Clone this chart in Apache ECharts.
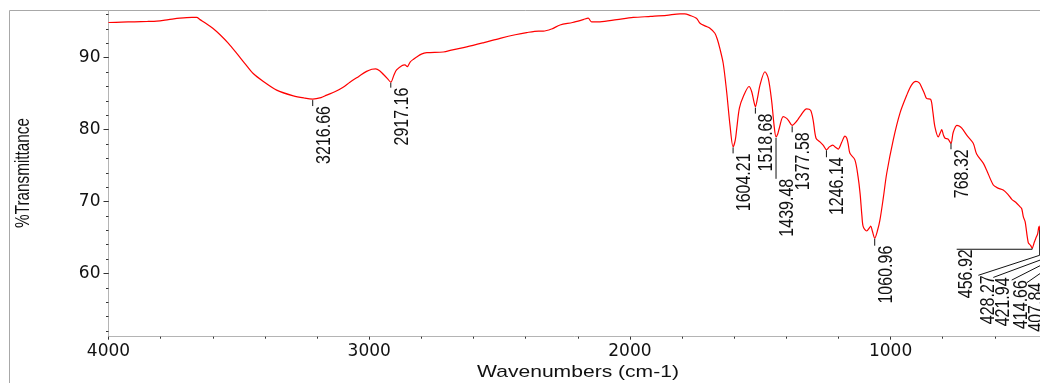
<!DOCTYPE html>
<html><head><meta charset="utf-8">
<script src="https://cdn.jsdelivr.net/npm/echarts@6/dist/echarts.min.js"></script>
<style>html,body{margin:0;padding:0;background:#fff}#c{width:1040px;height:383px}</style>
</head><body><div id="c"></div>
<script>
// ---- data ----
const wavenumbers = [
4000,3950,3900,3850,3815,3770,3726,3680,3662,3649,3623,3600,3572,3540,3508,3475,3445,3406,3355,3291,3250,3216.66,3185,3163,3130,3100,3074,3040,3010,2990,2975,2960,2946,2930,2917.16,2905,2895,2875,2863,2854,2843,2830,2818,2800,2779,2716,2680,2626,2560,2498,2440,2396,2350,2332,2300,2268,2220,2179,2160,2147,2115,2050,1987,1920,1859,1808,1790,1770,1745,1731,1710,1693,1674,1665,1655,1642,1629,1616,1604.21,1596,1590,1580,1565,1543,1533,1525,1518.68,1510,1501,1482,1469,1456,1447,1439.48,1433,1427,1412,1400,1392,1377.58,1360,1348,1322,1307,1297,1286,1271,1258,1246.14,1235,1222,1210,1201,1188,1175,1168,1162,1156,1137,1125,1117,1110,1105,1092,1080,1076,1070,1060.96,1050,1041,1028,1015,990,964,938,920,903,890,881,870,862,846,838,830,817,809,804,797,791,780,768.32,760,746,737,727,705,683,670,644,632,606,590,568,550,535,520,504,497,491,484,472,463,456.92,450,443,436,431,428.27,425,421.94,418,414.66,411,407.84,404,400];
const transmittance = [
94.9,94.95,95.0,95.05,95.1,95.3,95.5,95.6,95.6,95.3,94.7,94.1,93.2,92.0,90.6,89.1,87.8,86.7,85.5,84.7,84.4,84.25,84.45,84.8,85.3,85.9,86.6,87.4,88.1,88.4,88.45,88.2,87.7,87.1,86.6,87.6,88.3,88.9,89.0,88.75,89.4,89.8,90.1,90.5,90.7,90.8,91.1,91.5,92.1,92.7,93.2,93.5,93.7,93.7,94.0,94.55,94.9,95.3,95.5,95.0,95.0,95.3,95.6,95.75,95.9,96.1,96.1,95.9,95.5,94.8,94.4,94.1,93.4,92.6,91.3,89.2,85.3,80.6,77.6,78.5,80.2,83.0,84.6,86.0,85.3,84.0,83.2,84.5,86.2,88.05,87.1,83.9,80.6,79.0,79.4,80.2,81.8,81.6,81.3,80.6,81.2,81.8,82.9,82.7,81.3,78.8,78.3,77.8,77.2,77.6,77.85,77.5,77.3,78.2,79.1,78.8,77.85,76.7,75.8,73.5,71.1,68.0,66.5,65.9,66.4,66.6,65.9,64.9,66.0,67.4,70.5,73.9,78.55,82.3,84.8,86.2,86.7,86.5,85.9,85.0,84.35,84.2,82.5,80.4,79.0,79.6,80.0,79.2,78.8,78.7,78.1,79.6,80.6,80.5,80.2,79.1,78.1,76.6,75.3,74.4,72.3,71.9,71.6,71.0,70.3,69.9,69.3,69.0,67.9,67.2,64.3,63.9,63.5,64.2,64.9,65.5,66.5,66.0,66.8,66.3,67.0,66.5,67.4,67.0,67.8,68.0];
const peakLabels = ['3216.66','2917.16','1604.21','1518.68','1439.48','1377.58','1246.14','1060.96','768.32','456.92','428.27','421.94','414.66','407.84'];
const xTickLabels = [4000, 3000, 2000, 1000];
const yTickLabels = [60, 70, 80, 90];
const yMinorTicks = [52,54,56,58,60,62,64,66,68,70,72,74,76,78,80,82,84,86,88,90,92,94,96];

// ---- label layout (pixels): tick gap/length, optional leader offset ----
const peakLayout = [
 {gap:1,tick:6},{gap:0.5,tick:5},{gap:0.5,tick:6},{gap:1,tick:6},{gap:1,tick:41},
 {gap:1,tick:6},{gap:0.5,tick:7},{gap:0.5,tick:7},{gap:0,tick:6},
 {gap:0,tick:1,dx:-75.5,dy:0},
 {gap:0,tick:25,dx:-61.3,dy:20},
 {gap:0,tick:31.5,dx:-48,dy:17.8},
 {gap:0,tick:37.4,dx:-31.5,dy:16},
 {gap:0,tick:47,dx:-18.3,dy:12.7}
];

const lineData = wavenumbers.map((w, i) => [w, transmittance[i]]);
const peakData = peakLabels.map((lab, i) => {
  const w = parseFloat(lab);
  const k = wavenumbers.indexOf(w);
  return [w, transmittance[k], i];
});

const chart = echarts.init(document.getElementById('c'), null, {renderer: 'canvas'});
const tickColor = '#333';
const axisColor = '#b4b4b4';
chart.setOption({
  animation: false,
  backgroundColor: '#fff',
  grid: {left: 108.5, top: 11, width: 1042.8, height: 325.7, containLabel: false, outerBoundsMode: 'none'},
  xAxis: {
    type: 'value', min: 0, max: 4000, inverse: true, interval: 1000,
    axisLine: {show: true, onZero: false, lineStyle: {color: axisColor, width: 1}},
    axisTick: {show: true, length: 3, lineStyle: {color: tickColor}},
    minorTick: {show: true, splitNumber: 5, length: 2, lineStyle: {color: tickColor}},
    axisLabel: {
      formatter: v => xTickLabels.indexOf(v) >= 0 ? String(v) : '',
      fontFamily: 'DejaVu Sans', fontSize: 17, color: '#111', margin: 6
    },
    splitLine: {show: false}, minorSplitLine: {show: false}
  },
  yAxis: [{
    type: 'value', min: 51.2, max: 96.5,
    axisLine: {show: true, onZero: false, lineStyle: {color: axisColor, width: 1}},
    axisTick: {show: true, length: 5, customValues: yTickLabels, lineStyle: {color: tickColor}},
    axisLabel: {customValues: yTickLabels, fontFamily: 'DejaVu Sans', fontSize: 17, color: '#111', margin: 8},
    splitLine: {show: false}
  }, {
    type: 'value', min: 51.2, max: 96.5, position: 'left', offset: 0,
    axisLine: {show: false, onZero: false},
    axisTick: {show: true, length: 2.5, customValues: yMinorTicks, lineStyle: {color: tickColor}},
    axisLabel: {show: false},
    splitLine: {show: false}
  }],
  graphic: [
    {type: 'rect', z: -10, silent: true, shape: {x: 9.5, y: 10.5, width: 1200, height: 500},
     style: {fill: null, stroke: '#a8a8a8', lineWidth: 1}},
    {type: 'text', x: 23.3, y: 173, rotation: Math.PI / 2, scaleY: 1.35, silent: true,
     style: {text: '%Transmittance', font: '15.3px "Liberation Sans"', fill: '#111', align: 'center', verticalAlign: 'middle'}},
    {type: 'text', x: 578, y: 372, scaleX: 1.24, silent: true,
     style: {text: 'Wavenumbers (cm-1)', font: '17px "Liberation Sans"', fill: '#111', align: 'center', verticalAlign: 'middle'}}
  ],
  series: [{
    type: 'line', data: lineData, showSymbol: false, smooth: 0.3, clip: true,
    lineStyle: {color: '#ff0000', width: 1.2}, silent: true, z: 3
  }, {
    type: 'custom', data: peakData, clip: false, silent: true, z: 4,
    renderItem: function (params, api) {
      const i = api.value(2);
      const L = peakLayout[i];
      const p = api.coord([api.value(0), api.value(1)]);
      const x0 = p[0], y0 = p[1] + L.gap, y1 = y0 + L.tick;
      const children = [{type: 'line', shape: {x1: x0, y1: y0, x2: x0, y2: y1}, style: {stroke: '#111', lineWidth: 1}}];
      let ax = x0 + 0.8, ay = y1;
      if (L.dx !== undefined) {
        const ex = x0 + L.dx, ey = y1 + L.dy;
        children.push({type: 'line', shape: {x1: x0, y1: y1, x2: ex, y2: ey}, style: {stroke: '#111', lineWidth: 1}});
        ax = ex - 0.5; ay = ey;
      }
      children.push({type: 'text', x: ax, y: ay, rotation: Math.PI / 2, scaleY: 1.3,
        style: {text: peakLabels[i], font: '16px "Liberation Sans"', fill: '#111', align: 'right', verticalAlign: 'top'}});
      return {type: 'group', children: children};
    }
  }]
});
</script></body></html>
